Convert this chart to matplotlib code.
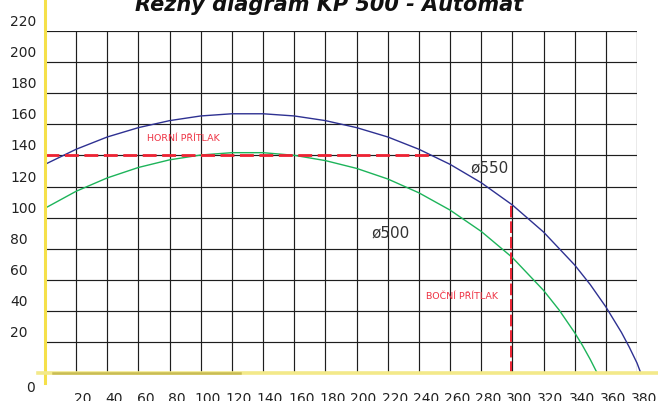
import matplotlib
matplotlib.use("Agg")
import matplotlib.pyplot as plt
import numpy as np

# curve values (cut depth vs. width)
x_550 = [0, 20, 40, 60, 80, 100, 120, 140, 160, 180, 200, 220, 240, 260,
         280, 300, 320, 340, 350, 360, 370, 375, 380, 382.5]
y_550 = [134.3, 144.0, 151.9, 157.9, 162.4, 165.4, 166.8, 166.8, 165.4, 162.4,
         157.9, 151.9, 144.0, 134.3, 122.5, 108.2, 90.8, 69.6, 57.0, 42.7,
         26.3, 16.9, 6.6, 0]

x_500 = [0, 20, 40, 60, 80, 100, 120, 140, 160, 180, 200, 220, 240, 260,
         280, 300, 320, 330, 340, 345, 350, 354, 354.5]
y_500 = [106.1, 117.0, 125.6, 132.3, 137.2, 140.3, 141.8, 141.8, 140.1, 136.7,
         131.7, 124.9, 116.0, 104.9, 91.2, 74.4, 53.3, 40.7, 26.1, 17.9,
         8.9, 1.0, 0]

# limits for top and side pressure
horni_x = [0, 247]
horni_y = [140.5, 140.5]
bocni_x = [299, 299]
bocni_y = [0, 108.5]

x_ticks = list(range(20, 381, 20))
y_ticks = list(range(20, 221, 20))

title = "Řezný diagram KP 500 - Automat"

fig = plt.figure(figsize=(6.58, 4.01), dpi=100)
ax = fig.add_axes([45 / 658, 27.7 / 401, 592 / 658, 342.3 / 401])
ax.set_xlim(0, 380)
ax.set_ylim(0, 220)

for s in ax.spines.values():
    s.set_visible(False)
ax.set_xticks(x_ticks)
ax.set_yticks(y_ticks)
ax.tick_params(length=0, labelbottom=False, labelleft=False)
ax.grid(True, color="#1e1e1e", lw=0.85)
ax.set_axisbelow(True)

# curves
ax.plot(x_550, y_550, color="#2e3192", lw=1.0, clip_on=False)
ax.plot(x_500, y_500, color="#1db45a", lw=1.0, clip_on=False)

ax.plot(horni_x, horni_y, color="#ee2233", lw=2.0, dashes=(5, 2))
ax.plot(bocni_x, bocni_y, color="#ee2233", lw=1.4, dashes=(6, 2))

# yellow axis lines
ax.plot([0, 0], [-6.2, 241], color="#f5e04a", lw=2.2, clip_on=False, zorder=5)
ax.plot([-4.5, 396], [0, 0], color="#f3e98a", lw=2.6, clip_on=False, zorder=5)
ax.plot([5.1, 125.2], [0, 0], color="#c9bc55", lw=1.8, clip_on=False, zorder=6)

# tick labels
for v in y_ticks:
    ax.text(-22.5, v + 5.8, str(v), ha="left", va="center", fontsize=10,
            color="#222222", clip_on=False)
ax.text(-12.2, -9.6, "0", ha="left", va="center", fontsize=10, color="#222222")
for v in x_ticks:
    ax.text(v + 4.5, -12.3, str(v), ha="center", va="top", fontsize=10,
            color="#222222")

# annotations
ax.text(273, 131.8, "ø550", fontsize=11, color="#333333", va="center")
ax.text(209.8, 90.1, "ø500", fontsize=11, color="#333333", va="center")
ax.text(65.3, 151.1, "HORNÍ PŘÍTLAK", fontsize=6.8, color="#ee3344", va="center")
ax.text(244.5, 49.2, "BOČNÍ PŘÍTLAK", fontsize=6.8, color="#ee3344", va="center")

fig.text(0.5, 1 - 11 / 401, title, ha="center", va="baseline", fontsize=15,
         fontweight="bold", fontstyle="italic", color="#111111")

fig.savefig("out.png", dpi=100)
